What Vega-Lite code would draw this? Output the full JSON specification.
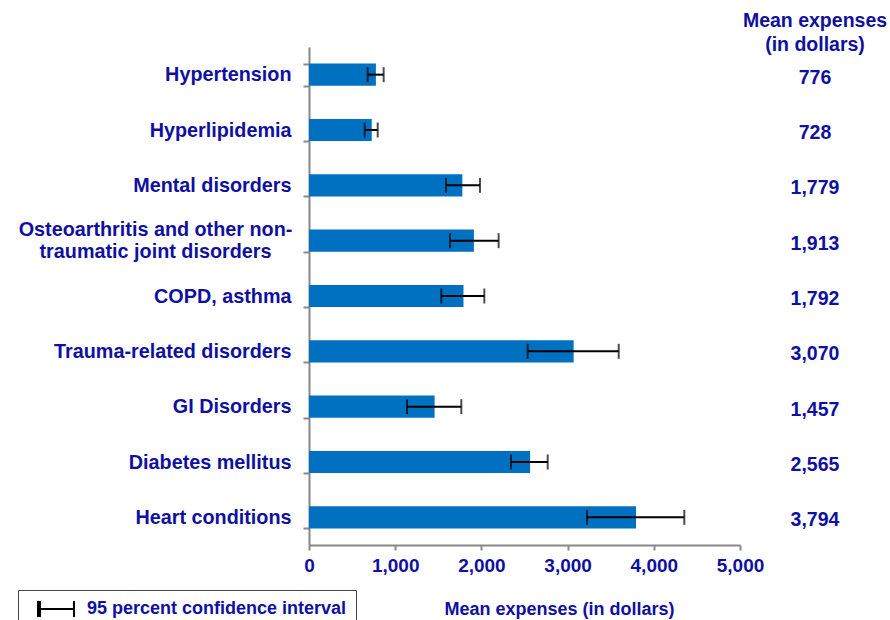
{
  "$schema": "https://vega.github.io/schema/vega-lite/v6.json",
  "background": "white",
  "padding": {"left": 17, "top": 10, "right": 5, "bottom": 0},
  "bounds": "flush",
  "spacing": 25,
  "config": {"font": "Liberation Sans", "view": {"stroke": null}},
  "data": {
    "values": [
      {"condition": "Hypertension", "mean": 776, "lo": 681, "hi": 866},
      {"condition": "Hyperlipidemia", "mean": 728, "lo": 646, "hi": 797},
      {"condition": "Mental disorders", "mean": 1779, "lo": 1589, "hi": 1984},
      {"condition": "Osteoarthritis and other non-traumatic joint disorders", "mean": 1913, "lo": 1636, "hi": 2200},
      {"condition": "COPD, asthma", "mean": 1792, "lo": 1535, "hi": 2034},
      {"condition": "Trauma-related disorders", "mean": 3070, "lo": 2537, "hi": 3593},
      {"condition": "GI Disorders", "mean": 1457, "lo": 1137, "hi": 1767},
      {"condition": "Diabetes mellitus", "mean": 2565, "lo": 2343, "hi": 2769},
      {"condition": "Heart conditions", "mean": 3794, "lo": 3225, "hi": 4354}
    ]
  },
  "hconcat": [
    {
      "width": 431,
      "height": 498,
      "encoding": {
        "y": {
          "field": "condition",
          "type": "nominal",
          "sort": null,
          "scale": {"paddingInner": 0.6, "paddingOuter": 0.3},
          "axis": {
            "title": null,
            "tickBand": "extent",
            "tickSize": 6,
            "tickColor": "#888888",
            "tickWidth": 2,
            "domainColor": "#888888",
            "domainWidth": 2,
            "labelFontSize": 19.8,
            "labelFontWeight": "bold",
            "labelColor": "#10109f",
            "labelLimit": 400,
            "labelLineHeight": 22,
            "labelPadding": {"condition": {"test": "datum.value == 'Osteoarthritis and other non-traumatic joint disorders'", "value": 148}, "value": 12},
            "labelAlign": {"condition": {"test": "datum.value == 'Osteoarthritis and other non-traumatic joint disorders'", "value": "center"}, "value": "right"},
            "labelOffset": {"condition": {"test": "datum.value == 'Osteoarthritis and other non-traumatic joint disorders'", "value": -11}, "value": 0},
            "labelExpr": "datum.value == 'Osteoarthritis and other non-traumatic joint disorders' ? ['Osteoarthritis and other non-', 'traumatic joint disorders'] : datum.value"
          }
        }
      },
      "layer": [
        {
          "mark": {"type": "bar", "color": "#0070c0"},
          "encoding": {
            "x": {
              "field": "mean",
              "type": "quantitative",
              "scale": {"domain": [0, 5000], "nice": false},
              "axis": {
                "values": [0, 1000, 2000, 3000, 4000, 5000],
                "labelExpr": "format(datum.value, ',')",
                "labelFlush": false,
                "grid": false,
                "tickColor": "#888888",
                "tickWidth": 2,
                "tickSize": 5,
                "domainColor": "#888888",
                "domainWidth": 2,
                "labelFontSize": 19,
                "labelFontWeight": "bold",
                "labelColor": "#10109f",
                "labelPadding": 6,
                "title": "Mean expenses (in dollars)",
                "titleFontSize": 18,
                "titleFontWeight": "bold",
                "titleColor": "#10109f",
                "titlePadding": 25,
                "titleX": 250
              }
            }
          }
        },
        {
          "mark": {"type": "rule", "strokeWidth": 2},
          "encoding": {
            "x": {"field": "lo", "type": "quantitative"},
            "x2": {"field": "hi"},
            "color": {
              "datum": "95 percent confidence interval",
              "scale": {"range": ["black"]},
              "legend": {
                "orient": "none",
                "legendX": -291,
                "legendY": 543,
                "title": null,
                "strokeColor": "#444444",
                "fillColor": "white",
                "padding": 9,
                "labelFontSize": 18,
                "labelFontWeight": "bold",
                "labelColor": "#10109f",
                "labelLimit": 400,
                "labelOffset": 40,
                "symbolType": "M0.11,-0.9L0.11,0.9M0.33,-0.9L0.33,0.9M0.11,0L4.11,0M4.11,-0.9L4.11,0.9",
                "symbolSize": 324,
                "symbolStrokeWidth": 2,
                "symbolStrokeColor": "black",
                "symbolFillColor": "transparent"
              }
            }
          }
        },
        {
          "mark": {"type": "tick", "color": "black", "thickness": 2, "size": 15},
          "encoding": {"x": {"field": "lo", "type": "quantitative"}}
        },
        {
          "mark": {"type": "tick", "color": "black", "thickness": 2, "size": 15},
          "encoding": {"x": {"field": "hi", "type": "quantitative"}}
        }
      ]
    },
    {
      "width": 100,
      "height": 498,
      "title": {
        "text": ["Mean expenses", "(in dollars)"],
        "fontSize": 19.5,
        "fontWeight": "bold",
        "color": "#10109f",
        "lineHeight": 24,
        "anchor": "middle",
        "offset": -8
      },
      "mark": {"type": "text", "fontSize": 19.5, "fontWeight": "bold", "color": "#10109f", "dy": 3},
      "encoding": {
        "y": {
          "field": "condition",
          "type": "nominal",
          "sort": null,
          "scale": {"paddingInner": 0.6, "paddingOuter": 0.3},
          "axis": null
        },
        "text": {"field": "mean", "type": "quantitative", "format": ","}
      }
    }
  ]
}
